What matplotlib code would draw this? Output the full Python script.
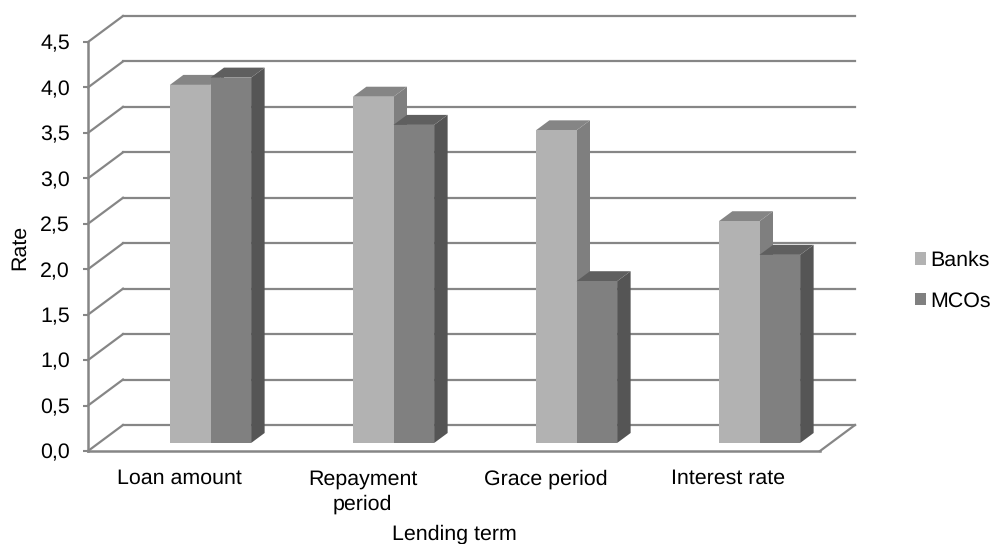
import matplotlib
matplotlib.use('Agg')
import matplotlib.pyplot as plt
import numpy as np
from matplotlib.patches import Patch, Polygon
from matplotlib.transforms import Affine2D

plt.rcParams['font.family'] = ['Liberation Sans', 'DejaVu Sans']
plt.rcParams['text.hinting'] = 'none'

categories = ['Loan amount', 'Repayment\nperiod', 'Grace period', 'Interest rate']
banks = [3.94, 3.81, 3.44, 2.44]
mcos = [4.02, 3.50, 1.78, 2.07]
y_ticks = [0, 0.5, 1, 1.5, 2, 2.5, 3, 3.5, 4, 4.5]
y_labels = ['0,0', '0,5', '1,0', '1,5', '2,0', '2,5', '3,0', '3,5', '4,0', '4,5']

W, H = 990, 544
GRID = '#868686'
FS = 15.4

fig = plt.figure(figsize=(W / 100, H / 100), dpi=100)
ax = fig.add_axes([88 / W, (H - 451) / H, 732 / W, 409 / H])
ax.set_xlim(0, 4)
ax.set_ylim(0, 4.5)
ax.patch.set_visible(False)

# the fake 3d is only pixel shifts on top of the normal data transform
wall = ax.transData + Affine2D().translate(35, 26)
front = ax.transData + Affine2D().translate(31, 8)
deep = front + Affine2D().translate(13.5, 10)

for v in y_ticks:
    ax.plot([0, 4], [v, v], color=GRID, lw=1.6, transform=wall, clip_on=False, zorder=1)
    # diagonal from the axis to the back wall
    p0 = ax.transData.transform((0, v))
    line = plt.Line2D([p0[0], p0[0] + 35], [p0[1], p0[1] + 26], color=GRID, lw=1.6,
                      transform=None, zorder=1)
    fig.add_artist(line)
p0 = ax.transData.transform((4, 0))
fig.add_artist(plt.Line2D([p0[0], p0[0] + 35], [p0[1], p0[1] + 26], color=GRID, lw=1.6,
                          transform=None, zorder=1))

bar_w = 0.222


def draw_bar(x0, v, c_front, c_top, c_side, z):
    x1 = x0 + bar_w
    fp = front.transform([(x0, 0), (x1, 0), (x1, v), (x0, v)])
    bp = deep.transform([(x0, 0), (x1, 0), (x1, v), (x0, v)])
    ax.add_patch(Polygon([fp[1], bp[1], bp[2], fp[2]], color=c_side, lw=0, transform=None,
                         clip_on=False, zorder=z))
    ax.add_patch(Polygon([fp[3], fp[2], bp[2], bp[3]], color=c_top, lw=0, transform=None,
                         clip_on=False, zorder=z))
    ax.bar(x0, v, width=bar_w, align='edge', color=c_front, lw=0, transform=front,
           clip_on=False, zorder=z + 0.5)


for i in range(len(categories)):
    c = i + 0.5
    draw_bar(c - bar_w, banks[i], '#B2B2B2', '#858585', '#7F7F7F', 3)
    draw_bar(c, mcos[i], '#808080', '#5F5F5F', '#555555', 4)

ax.set_xlim(0, 4)
ax.set_ylim(0, 4.5)
for s in ['top', 'right']:
    ax.spines[s].set_visible(False)
for s in ['left', 'bottom']:
    ax.spines[s].set_color(GRID)
    ax.spines[s].set_linewidth(1.8)
    ax.spines[s].set_zorder(5)

ax.set_yticks(y_ticks)
ax.set_yticklabels(y_labels, fontsize=FS, color='black')
ax.tick_params(axis='y', length=3.6, width=1.5, color=GRID, pad=9.4)
ax.set_xticks(np.arange(len(categories)) + 0.5)
ax.set_xticklabels(categories, fontsize=FS, color='black', va='top', linespacing=1.35)
ax.tick_params(axis='x', length=0, pad=13)

fig.text(19.5 / W, 1 - 247 / H, 'Rate', rotation=90, fontsize=FS, ha='center', va='center')
fig.text(454 / W, 1 - 534 / H, 'Lending term', fontsize=FS, ha='center', va='center')

handles = [Patch(color='#B2B2B2', lw=0), Patch(color='#808080', lw=0)]
fig.legend(handles, ['Banks', 'MCOs'], loc='center left', bbox_to_anchor=(915 / W, 1 - 281 / H),
           frameon=False, fontsize=FS, handlelength=0.52, handleheight=0.52, handletextpad=0.18,
           labelspacing=0.99, borderpad=0, borderaxespad=0)

fig.savefig('out.png', dpi=100)
